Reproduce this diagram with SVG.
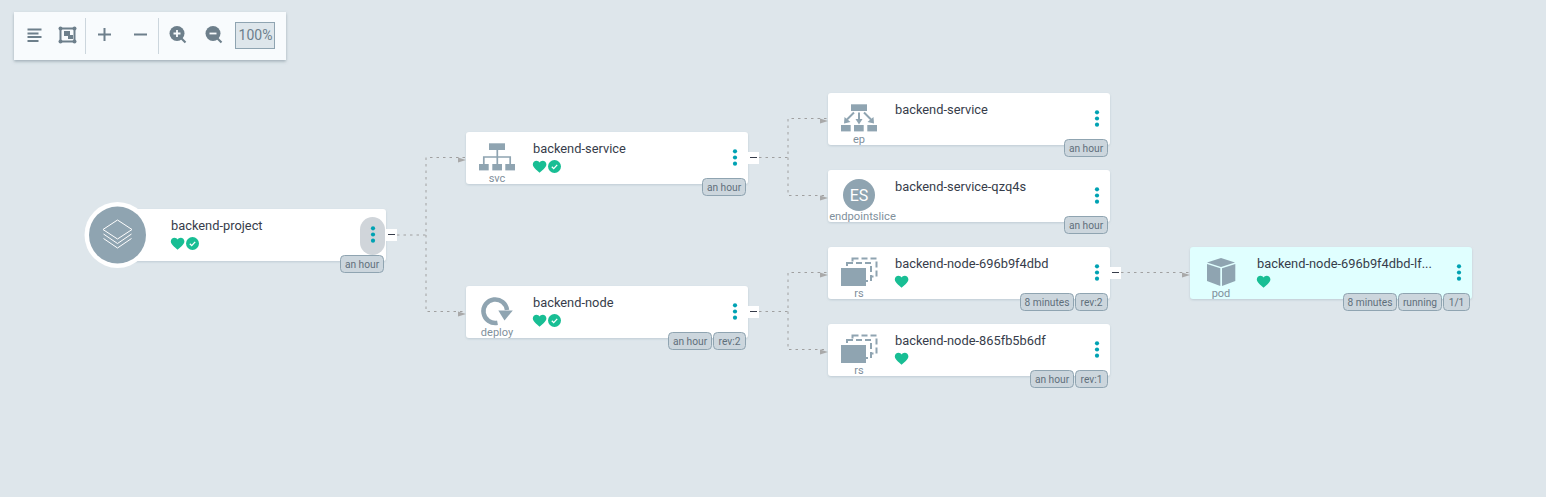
<svg xmlns="http://www.w3.org/2000/svg" width="1546" height="497" viewBox="0 0 1546 497">
<style>
text{font-family:Roboto,"Liberation Sans",sans-serif}
.card{fill:#fff;filter:url(#cs)}
.name{font-size:12.85px;fill:#363c4a}
.kind{font-size:11px;fill:#7f909c;text-anchor:middle}
.bdg{fill:#ccd6dd;stroke:#8fa4b1;stroke-width:1}
.bt{font-size:10.2px;fill:#5f6f7b;text-anchor:middle}
.edge{fill:none;stroke:#a0a0a0;stroke-width:1;stroke-dasharray:2.500 4}
.arr{fill:#a9a9a9}
.col{fill:#fff}
.mn{stroke:#363c4a;stroke-width:1}
.ic{fill:#8fa4b1}
.ln{stroke:#8fa4b1;fill:none}
.tb{stroke:#6d7f8b;fill:none}
</style>
<defs>
<filter id="cs" x="-5%" y="-20%" width="110%" height="145%"><feDropShadow dx="0" dy="1" stdDeviation="1" flood-color="#8fa4b1" flood-opacity=".4"/></filter>
<filter id="ts" x="-5%" y="-20%" width="110%" height="150%"><feDropShadow dx="0" dy="1.5" stdDeviation="1.5" flood-color="#6d7f8b" flood-opacity=".55"/></filter>
<g id="heart"><path d="M6.6 11.800C5.800 10.900-.2 7-.2 3.600-.2 1.300 1.500-.2 3.500-.2 4.800-.2 6 .5 6.600 1.600 7.200.5 8.400-.2 9.700-.2 11.700-.2 13.400 1.300 13.400 3.600 13.400 7 7.400 10.900 6.600 11.800Z" fill="#18be94"/></g>
<g id="check"><circle cx="6.5" cy="6.5" r="6.5" fill="#18be94"/><path d="M3.800 6.800 5.700 8.600 9.200 4.900" fill="none" stroke="#fff" stroke-width="1.300"/></g>
<g id="dots" fill="#00a2b3"><circle cx="0" cy="-6.200" r="2.100"/><circle cx="0" cy="0" r="2.100"/><circle cx="0" cy="6.200" r="2.100"/></g>
<g id="rs"><rect x="11.500" y="-9.500" width="24" height="18" fill="none" stroke="#8fa4b1" stroke-width="2" stroke-dasharray="6 3"/><rect x="6" y="-5" width="24" height="18" fill="#fff" stroke="#8fa4b1" stroke-width="2" stroke-dasharray="6 3"/><rect x="0" y="0" width="25" height="18" fill="#8fa4b1"/></g>
</defs>
<rect width="1546" height="497" fill="#dee6eb"/>

<g id="connectors">
<path class="edge" d="M397 235H426V157.500H466M426 235V311.500H466"/>
<path class="edge" d="M759 157.500H788V118.500H828M788 157.500V195.500H828"/>
<path class="edge" d="M759 311.500H788V272.500H828M788 311.500V349.500H828"/>
<path class="edge" d="M1121 272.500H1190"/>
<polygon class="arr" points="458,157.500 466,160 458,162.500"/>
<polygon class="arr" points="458,311.500 466,314 458,316.500"/>
<polygon class="arr" points="820,118.500 828,121 820,123.500"/>
<polygon class="arr" points="820,195.500 828,198 820,200.500"/>
<polygon class="arr" points="820,272.500 828,275 820,277.500"/>
<polygon class="arr" points="820,349.500 828,352 820,354.500"/>
<polygon class="arr" points="1182,272.500 1190,275 1182,277.500"/>
</g>

<g id="toolbar">
<rect x="14" y="12" width="272" height="48" fill="#f8fbfd" filter="url(#ts)"/>
<path class="tb" stroke-width="2" d="M27.500 29.500H41.500M27.500 33.500H38.500M27.500 37H41.500M27.500 41H38.500"/>
<rect class="tb" x="60.500" y="28.500" width="14" height="13" stroke-width="2"/>
<g fill="#6d7f8b"><circle cx="60.500" cy="28.500" r="2"/><circle cx="74.500" cy="28.500" r="2"/><circle cx="60.500" cy="41.500" r="2"/><circle cx="74.500" cy="41.500" r="2"/><rect x="64" y="31" width="6" height="5"/><rect x="68" y="35" width="5" height="4"/></g>
<path d="M85.500 18V54M158.500 18V54" stroke="#ccd6dd"/>
<path class="tb" stroke-width="2" d="M98 34.500H111M104.500 28V41M134 34.500H147"/>
<g id="zoomin"><circle cx="177" cy="33.500" r="7.500" fill="#6d7f8b"/><path class="tb" stroke-width="2.200" d="M181.500 38.500 185.500 42.500"/><path stroke="#f8fbfd" stroke-width="1.800" d="M173.500 33.500H180.500M177 30V37"/></g>
<g id="zoomout"><circle cx="213" cy="33.500" r="7.500" fill="#6d7f8b"/><path class="tb" stroke-width="2.200" d="M217.500 38.500 221.500 42.500"/><path stroke="#f8fbfd" stroke-width="1.800" d="M209.500 33.500H216.500"/></g>
<rect x="235.500" y="22.500" width="39" height="26" fill="#dee6eb" stroke="#8fa4b1"/>
<text x="255.500" y="40" font-size="14" fill="#6d7f8b" text-anchor="middle">100%</text>
</g>

<g id="node-project">
<rect class="card" x="118" y="209" width="268" height="52" rx="3"/>
<circle cx="117.500" cy="235" r="33" fill="#fff"/>
<circle cx="117.500" cy="235" r="28.500" fill="#8fa4b1"/>
<g fill="none" stroke="#fff" stroke-width="1"><path d="M103.500 234 117.500 243.500 131.500 234M103.500 238.500 117.500 248 131.500 238.500"/><path d="M117.500 220 132 229.500 117.500 239 103 229.500Z"/></g>
<text class="name" x="171" y="230">backend-project</text>
<use href="#heart" x="171" y="238"/><use href="#check" x="186" y="237"/>
<rect x="360" y="217" width="25" height="38" rx="12.500" fill="#d0d5da"/>
<use href="#dots" x="373" y="234.500"/>
<rect class="col" x="386" y="229" width="11" height="12"/><path class="mn" d="M388 234.500H395"/>
<rect class="bdg" x="340.500" y="255.500" width="43" height="17" rx="4"/><text class="bt" x="362" y="267.500">an hour</text>
</g>

<g id="node-svc">
<rect class="card" x="466" y="132" width="282" height="52" rx="3"/>
<g class="ic"><rect x="489" y="143.300" width="16" height="6.700"/><rect x="479" y="164" width="9.700" height="6.400"/><rect x="492.300" y="164" width="9.700" height="6.400"/><rect x="505.300" y="164" width="9.700" height="6.400"/></g>
<path class="ln" stroke-width="1.700" d="M497.300 150V164M483.800 164V157H510.200V164"/>
<text class="kind" x="497" y="182">svc</text>
<text class="name" x="533" y="153">backend-service</text>
<use href="#heart" x="533" y="161"/><use href="#check" x="548" y="160"/>
<use href="#dots" x="735" y="157.500"/>
<rect class="col" x="748" y="152" width="11" height="12"/><path class="mn" d="M750 157.500H757"/>
<rect class="bdg" x="702.500" y="178.500" width="43" height="17" rx="4"/><text class="bt" x="724" y="190.500">an hour</text>
</g>

<g id="node-deploy">
<rect class="card" x="466" y="286" width="282" height="52" rx="3"/>
<path d="M497.500 322.800A11.800 11.800 0 1 1 507 310" fill="none" stroke="#8fa4b1" stroke-width="4.500"/>
<polygon class="ic" points="498.300,310.500 512.800,310.500 504.500,320.500"/>
<text class="kind" x="497" y="336">deploy</text>
<text class="name" x="533" y="307">backend-node</text>
<use href="#heart" x="533" y="315"/><use href="#check" x="548" y="314"/>
<use href="#dots" x="735" y="311.500"/>
<rect class="col" x="748" y="306" width="11" height="12"/><path class="mn" d="M750 311.500H757"/>
<rect class="bdg" x="668.500" y="332.500" width="43" height="17" rx="4"/><text class="bt" x="690" y="344.500">an hour</text>
<rect class="bdg" x="713.500" y="332.500" width="32" height="17" rx="4"/><text class="bt" x="729.500" y="344.500">rev:2</text>
</g>

<g id="node-ep">
<rect class="card" x="828" y="93" width="282" height="52" rx="3"/>
<g class="ic"><rect x="851" y="104.300" width="16" height="6.700"/><rect x="841" y="125" width="9.700" height="6.400"/><rect x="854" y="125" width="9.700" height="6.400"/><rect x="867.300" y="125" width="9.700" height="6.400"/></g>
<path class="ln" stroke-width="2" d="M854 112.500 847 119.500M859 112.500V120.500M864 112.500 871 119.500"/>
<g class="ic"><polygon points="844,123.500 844.500,117 850.500,122"/><polygon points="855.500,119 862.500,119 859,124.500"/><polygon points="874,123.500 873.500,117 867.500,122"/></g>
<text class="kind" x="859" y="143">ep</text>
<text class="name" x="895" y="114">backend-service</text>
<use href="#dots" x="1097" y="118.500"/>
<rect class="bdg" x="1064.500" y="139.500" width="43" height="17" rx="4"/><text class="bt" x="1086" y="151.500">an hour</text>
</g>

<g id="node-es">
<rect class="card" x="828" y="170" width="282" height="52" rx="3"/>
<circle class="ic" cx="859" cy="195" r="16"/>
<text x="859" y="200.500" font-size="16" fill="#fff" text-anchor="middle">ES</text>
<text class="kind" x="862.500" y="220" style="font-size:11.2px">endpointslice</text>
<text class="name" x="895" y="191">backend-service-qzq4s</text>
<use href="#dots" x="1097" y="195.500"/>
<rect class="bdg" x="1064.500" y="216.500" width="43" height="17" rx="4"/><text class="bt" x="1086" y="228.500">an hour</text>
</g>

<g id="node-rs1">
<rect class="card" x="828" y="247" width="282" height="52" rx="3"/>
<use href="#rs" x="841" y="268"/>
<text class="kind" x="859" y="297">rs</text>
<text class="name" x="895" y="268">backend-node-696b9f4dbd</text>
<use href="#heart" x="895" y="276"/>
<use href="#dots" x="1097" y="272.500"/>
<rect class="col" x="1110" y="267" width="11" height="12"/><path class="mn" d="M1112 272.500H1119"/>
<rect class="bdg" x="1020.500" y="293.500" width="53" height="17" rx="4"/><text class="bt" x="1047" y="305.500">8 minutes</text>
<rect class="bdg" x="1075.500" y="293.500" width="32" height="17" rx="4"/><text class="bt" x="1091.500" y="305.500">rev:2</text>
</g>

<g id="node-rs2">
<rect class="card" x="828" y="324" width="282" height="52" rx="3"/>
<use href="#rs" x="841" y="345"/>
<text class="kind" x="859" y="374">rs</text>
<text class="name" x="895" y="345">backend-node-865fb5b6df</text>
<use href="#heart" x="895" y="353"/>
<use href="#dots" x="1097" y="349.500"/>
<rect class="bdg" x="1030.500" y="370.500" width="43" height="17" rx="4"/><text class="bt" x="1052" y="382.500">an hour</text>
<rect class="bdg" x="1075.500" y="370.500" width="32" height="17" rx="4"/><text class="bt" x="1091.500" y="382.500">rev:1</text>
</g>

<g id="node-pod">
<rect class="card" x="1190" y="247" width="282" height="52" rx="3" style="fill:#e0ffff"/>
<g class="ic"><polygon points="1221,258 1235,262.500 1221,267 1207,262.500"/><polygon points="1207,264 1220.300,268.300 1220.300,286 1207,281"/><polygon points="1235.300,264 1222,268.300 1222,286 1235.300,281"/></g>
<text class="kind" x="1221" y="297">pod</text>
<text class="name" x="1257" y="268">backend-node-696b9f4dbd-lf...</text>
<use href="#heart" x="1257" y="276"/>
<use href="#dots" x="1459" y="272.500"/>
<rect class="bdg" x="1343.500" y="293.500" width="53" height="17" rx="4"/><text class="bt" x="1370" y="305.500">8 minutes</text>
<rect class="bdg" x="1398.500" y="293.500" width="43" height="17" rx="4"/><text class="bt" x="1420" y="305.500">running</text>
<rect class="bdg" x="1443.500" y="293.500" width="26" height="17" rx="4"/><text class="bt" x="1456.500" y="305.500">1/1</text>
</g>
</svg>
